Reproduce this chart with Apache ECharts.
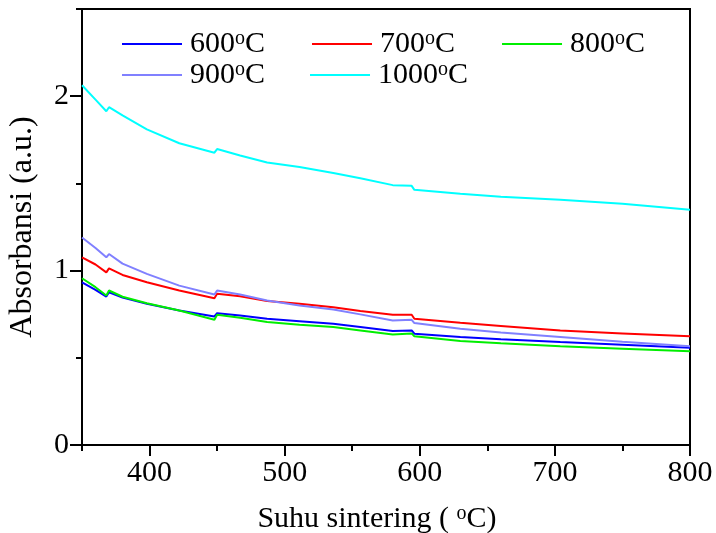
<!DOCTYPE html>
<html>
<head>
<meta charset="utf-8">
<script src="https://cdn.jsdelivr.net/npm/echarts@6/dist/echarts.min.js"></script>
<style>
  html, body { margin: 0; padding: 0; background: #fff; }
  #chart { width: 716px; height: 533px; }
</style>
</head>
<body>
<div id="chart"></div>
<script>
// suhu (x) yang sama untuk semua kurva
const suhu = [350, 360, 368, 370, 380, 398, 422, 448, 450, 467, 487, 511, 536, 556, 580, 594, 596, 630, 660, 704, 750, 800];

const names = ["600", "700", "800", "900", "1000"];
const colors = ["#0000ff", "#ff0000", "#00ee00", "#8080ff", "#00ffff"];

const abs600 = [0.933, 0.89, 0.851, 0.876, 0.845, 0.81, 0.771, 0.737, 0.756, 0.743, 0.724, 0.71, 0.695, 0.676, 0.653, 0.657, 0.638, 0.619, 0.606, 0.59, 0.575, 0.558];
const abs700 = [1.076, 1.035, 0.99, 1.013, 0.975, 0.933, 0.886, 0.842, 0.867, 0.853, 0.825, 0.81, 0.79, 0.768, 0.747, 0.747, 0.724, 0.701, 0.683, 0.657, 0.64, 0.623];
const abs800 = [0.956, 0.905, 0.857, 0.886, 0.85, 0.813, 0.771, 0.718, 0.747, 0.73, 0.705, 0.69, 0.676, 0.657, 0.634, 0.64, 0.623, 0.596, 0.583, 0.566, 0.552, 0.537];
const abs900 = [1.19, 1.13, 1.076, 1.095, 1.04, 0.981, 0.914, 0.863, 0.886, 0.863, 0.829, 0.8, 0.777, 0.749, 0.714, 0.718, 0.699, 0.667, 0.645, 0.619, 0.592, 0.566];
const abs1000 = [2.063, 1.98, 1.914, 1.937, 1.89, 1.81, 1.73, 1.676, 1.697, 1.66, 1.62, 1.594, 1.56, 1.53, 1.49, 1.486, 1.463, 1.44, 1.423, 1.406, 1.383, 1.349];

// tick labels
const xLabels = [400, 500, 600, 700, 800];
const yLabels = [0, 1, 2];
// tick marks (ends nudged inside the axis range, ticks at the exact ends are not drawn)
const xMajor = [400, 500, 600, 700, 799.99];
const xMinor = [350.01, 450, 550, 650, 750];
const yMajor = [0.0001, 1, 2];
const yMinor = [0.5, 1.5, 2.4999];

const values = [abs600, abs700, abs800, abs900, abs1000];

const font = "Liberation Serif";
const rich = {
  g: { width: 3 },
  n: { fontFamily: font, fontSize: 30, color: "#000" },
  s: { fontFamily: font, fontSize: 20, color: "#000", verticalAlign: "top" },
};

const chart = echarts.init(document.getElementById("chart"));

const legendBase = {
  left: 117,
  orient: "horizontal",
  icon: "rect",
  itemWidth: 60,
  itemHeight: 2,
  itemGap: 47,
  formatter: (name) => "{g|}{n|" + name + "}{s|o}{n|C}",
  textStyle: { rich: rich },
};

const tickLine = { color: "#000", width: 2 };

const option = {
  animation: false,
  grid: {
    left: 82, right: 26, top: 9, bottom: 88,
    outerBoundsMode: "none",
    containLabel: false,
    show: true, borderColor: "#000", borderWidth: 2,
  },
  legend: [
    Object.assign({}, legendBase, { top: 24, data: names.slice(0, 3) }),
    Object.assign({}, legendBase, { top: 55, itemGap: 45, data: names.slice(3) }),
  ],
  xAxis: [
    {
      type: "value", min: 350, max: 800,
      name: "{n|Suhu sintering ( }{s|o}{n|C)}",
      nameLocation: "middle", nameGap: 59,
      nameTextStyle: { rich: rich, padding: [0, 18, 0, 0] },
      axisLine: { show: true, lineStyle: { color: "#000", width: 2 } },
      axisTick: { show: true, customValues: xMajor, length: 11, lineStyle: tickLine },
      axisLabel: { customValues: xLabels, fontFamily: font, fontSize: 30, color: "#000", margin: 13 },
      splitLine: { show: false },
    },
    {
      type: "value", min: 350, max: 800, position: "bottom",
      axisLine: { show: false },
      axisTick: { show: true, customValues: xMinor, length: 6, lineStyle: tickLine },
      axisLabel: { show: false },
      splitLine: { show: false },
    },
  ],
  yAxis: [
    {
      type: "value", min: 0, max: 2.5,
      name: "Absorbansi (a.u.)",
      nameLocation: "middle", nameGap: 43,
      nameTextStyle: { fontFamily: font, fontSize: 32, color: "#000" },
      axisLine: { show: true, lineStyle: { color: "#000", width: 2 } },
      axisTick: { show: true, customValues: yMajor, length: 12, lineStyle: tickLine },
      axisLabel: { customValues: yLabels, fontFamily: font, fontSize: 30, color: "#000", margin: 13 },
      splitLine: { show: false },
    },
    {
      type: "value", min: 0, max: 2.5, position: "left",
      axisLine: { show: false },
      axisTick: { show: true, customValues: yMinor, length: 6, lineStyle: tickLine },
      axisLabel: { show: false },
      splitLine: { show: false },
    },
  ],
  series: names.map((nm, i) => ({
    name: nm,
    type: "line",
    symbol: "none",
    color: colors[i],
    lineStyle: { width: 2, color: colors[i] },
    data: suhu.map((x, j) => [x, values[i][j]]),
  })),
};

chart.setOption(option);
</script>
</body>
</html>
